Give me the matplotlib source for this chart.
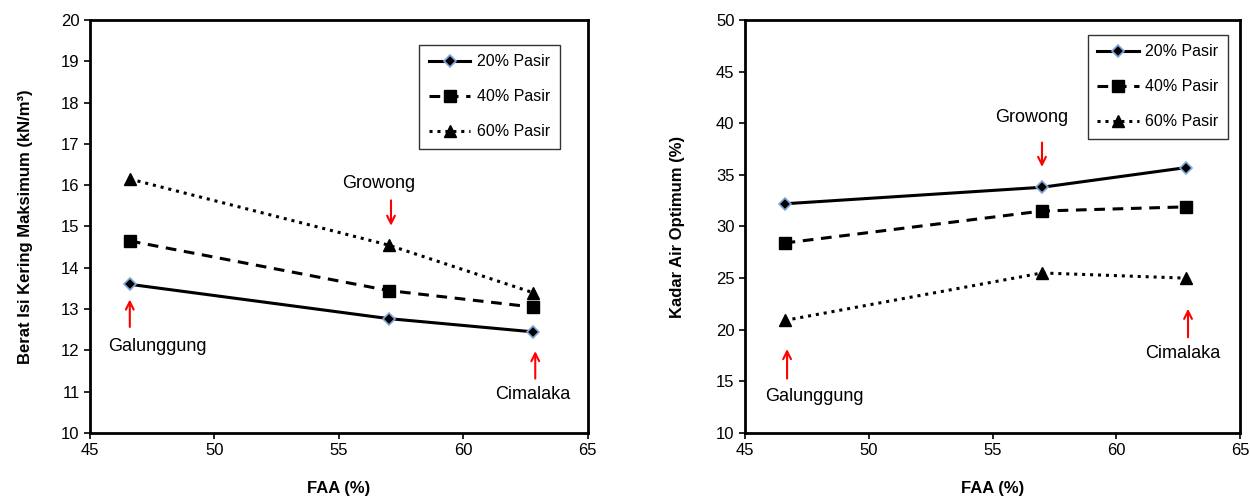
import matplotlib
matplotlib.use("Agg")
import matplotlib.pyplot as plt

plt.rcParams['font.family'] = ['Liberation Sans Narrow', 'Liberation Sans', 'DejaVu Sans']

# data
faa = [46.6, 57.0, 62.8]
series_names = ["20% Pasir", "40% Pasir", "60% Pasir"]

berat_20 = [13.60, 12.77, 12.45]
berat_40 = [14.65, 13.45, 13.05]
berat_60 = [16.15, 14.55, 13.40]

kadar_20 = [32.2, 33.8, 35.7]
kadar_40 = [28.4, 31.5, 31.9]
kadar_60 = [20.9, 25.5, 25.0]

styles = [
    dict(ls='-', lw=2.2, marker='D', ms=6, mfc='black', mec='#7fa7d9', mew=1.2),
    dict(ls=(0, (3.5, 2.5)), lw=2.2, marker='s', ms=9, mfc='black', mec='black'),
    dict(ls=(0, (1, 1.6)), lw=2.2, marker='^', ms=9, mfc='black', mec='black'),
]

fig = plt.figure(figsize=(12.5, 5), dpi=100)
ax1 = fig.add_axes([0.072, 0.134, 0.398, 0.826])
ax2 = fig.add_axes([0.596, 0.134, 0.396, 0.826])


def arrow(ax, x, y0, y1):
    ax.annotate("", xy=(x, y1), xytext=(x, y0),
                arrowprops=dict(arrowstyle='->', color='red', lw=1.5,
                                mutation_scale=14))


leg_kw = dict(loc='upper right', fontsize=11.5, frameon=True, fancybox=False,
              edgecolor='black', handlelength=2.6, handletextpad=0.4,
              labelspacing=1.25, borderpad=0.6, borderaxespad=0)

# left chart
for vals, name, st in zip([berat_20, berat_40, berat_60], series_names, styles):
    ax1.plot(faa, vals, color='black', label=name, **st)
ax1.set_xlim(45, 65)
ax1.set_ylim(10, 20)
ax1.set_xticks([45, 50, 55, 60, 65])
ax1.set_yticks(range(10, 21))
ax1.set_xlabel("FAA (%)", fontsize=12, fontweight='bold', labelpad=16)
ax1.set_ylabel("Berat Isi Kering Maksimum (kN/m³)", fontsize=12, fontweight='bold', labelpad=20)
arrow(ax1, 46.6, 12.5, 13.3)
ax1.text(47.7, 12.1, "Galunggung", fontsize=13, ha='center', va='center')
arrow(ax1, 57.1, 15.7, 14.95)
ax1.text(56.6, 16.05, "Growong", fontsize=13, ha='center', va='center')
arrow(ax1, 62.9, 11.25, 12.05)
ax1.text(62.8, 10.93, "Cimalaka", fontsize=13, ha='center', va='center')
leg1 = ax1.legend(bbox_to_anchor=(0.944, 0.94), **leg_kw)
leg1.get_frame().set_linewidth(1.0)

# right chart
for vals, name, st in zip([kadar_20, kadar_40, kadar_60], series_names, styles):
    ax2.plot(faa, vals, color='black', label=name, **st)
ax2.set_xlim(45, 65)
ax2.set_ylim(10, 50)
ax2.set_xticks([45, 50, 55, 60, 65])
ax2.set_yticks(range(10, 51, 5))
ax2.set_xlabel("FAA (%)", fontsize=12, fontweight='bold', labelpad=16)
ax2.set_ylabel("Kadar Air Optimum (%)", fontsize=12, fontweight='bold', labelpad=22)
arrow(ax2, 46.7, 15.0, 18.4)
ax2.text(47.8, 13.5, "Galunggung", fontsize=13, ha='center', va='center')
arrow(ax2, 57.0, 38.4, 35.5)
ax2.text(56.6, 40.6, "Growong", fontsize=13, ha='center', va='center')
arrow(ax2, 62.9, 19.0, 22.3)
ax2.text(62.7, 17.7, "Cimalaka", fontsize=13, ha='center', va='center')
leg2 = ax2.legend(bbox_to_anchor=(0.976, 0.964), **leg_kw)
leg2.get_frame().set_linewidth(1.0)

for ax in (ax1, ax2):
    for sp in ax.spines.values():
        sp.set_linewidth(2.0)
    ax.tick_params(labelsize=12, width=1.2, length=4)

fig.savefig("out.png", dpi=100)
plt.close(fig)
